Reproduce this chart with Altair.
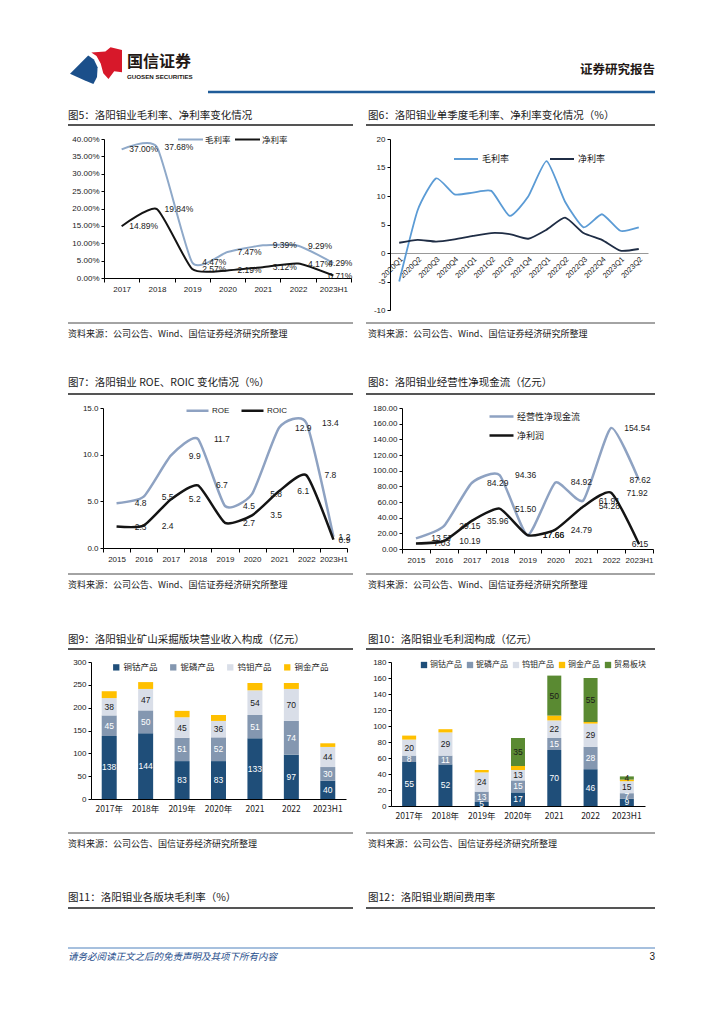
import altair as alt
import pandas as pd

FONT = "Noto Sans CJK SC"
NUM = "Liberation Sans"
INK = "#1a1a1a"

# ---------------- chart data ----------------
years5 = ["2017", "2018", "2019", "2020", "2021", "2022", "2023H1"]
gross5 = [37.00, 37.68, 4.47, 7.47, 9.39, 9.29, 4.29]
net5 = [14.89, 19.84, 2.57, 2.19, 3.12, 4.17, 0.71]
yticks5 = [0, 5, 10, 15, 20, 25, 30, 35, 40]

quarters6 = ["2020Q1", "2020Q2", "2020Q3", "2020Q4", "2021Q1", "2021Q2", "2021Q3",
             "2021Q4", "2022Q1", "2022Q2", "2022Q3", "2022Q4", "2023Q1", "2023Q2"]
gross6 = [-5.0, 7.5, 13.1, 10.3, 10.6, 10.9, 6.5, 9.9, 16.1, 9.0, 4.5, 6.8, 3.9, 4.5]
net6 = [1.8, 2.3, 2.0, 2.4, 3.0, 3.5, 3.3, 2.5, 4.1, 6.2, 3.5, 2.3, 0.4, 0.7]
yticks6 = [-10, -5, 0, 5, 10, 15, 20]

years7 = ["2015", "2016", "2017", "2018", "2019", "2020", "2021", "2022", "2023H1"]
roe7 = [4.8, 5.5, 9.9, 11.7, 4.5, 5.8, 12.9, 13.4, 1.2]
roic7 = [2.3, 2.4, 5.2, 6.7, 2.7, 3.5, 6.1, 7.8, 0.9]
yticks7 = [0, 5, 10, 15]

ocf8 = [13.57, 29.15, 84.29, 94.36, 17.66, 84.92, 61.91, 154.54, 87.62]
np8 = [7.03, 10.19, 35.96, 51.50, 17.66, 24.79, 54.28, 71.92, 6.15]
yticks8 = [0, 20, 40, 60, 80, 100, 120, 140, 160, 180]

cats9 = ["2017年", "2018年", "2019年", "2020年", "2021", "2022", "2023H1"]
names9 = ["铜钴产品", "铌磷产品", "钨钼产品", "铜金产品"]
cuco9 = [138, 144, 83, 83, 133, 97, 40]
nbp9 = [45, 50, 51, 52, 51, 74, 30]
wmo9 = [38, 47, 45, 36, 54, 70, 44]
cuau9 = [15, 15, 14, 13, 16, 13, 8]
yticks9 = [0, 50, 100, 150, 200, 250, 300]

names10 = ["铜钴产品", "铌磷产品", "钨钼产品", "铜金产品", "贸易板块"]
cuco10 = [55, 52, 5, 17, 70, 46, 9]
nbp10 = [8, 11, 13, 15, 15, 28, 7]
wmo10 = [20, 29, 24, 13, 22, 29, 15]
cuau10 = [5, 4, 3, 5, 6, 2, 2]
trade10 = [0, 0, 0, 35, 50, 55, 4]
yticks10 = [0, 20, 40, 60, 80, 100, 120, 140, 160, 180]

TITLE5 = "图5：洛阳钼业毛利率、净利率变化情况"
TITLE6 = "图6：洛阳钼业单季度毛利率、净利率变化情况（%）"
TITLE7 = "图7：洛阳钼业 ROE、ROIC 变化情况（%）"
TITLE8 = "图8：洛阳钼业经营性净现金流（亿元）"
TITLE9 = "图9：洛阳钼业矿山采掘版块营业收入构成（亿元）"
TITLE10 = "图10：洛阳钼业毛利润构成（亿元）"
TITLE11 = "图11：洛阳钼业各版块毛利率（%）"
TITLE12 = "图12：洛阳钼业期间费用率"
SRC_A = "资料来源：公司公告、Wind、国信证券经济研究所整理"
SRC_B = "资料来源：公司公告、国信证券经济研究所整理"
FOOT = "请务必阅读正文之后的免责声明及其项下所有内容"

# ---------------- page geometry ----------------
ROWS = {
    1: dict(top=100, bot=356, py=139, title=116, rule=125, sline=323, src=334),
    2: dict(top=356, bot=610, py=408, title=383, rule=394, sline=574, src=585),
    3: dict(top=610, bot=866, py=662, title=640, rule=649, sline=833, src=844),
}
COLS = {
    "L": dict(left=60, right=362, tx=68, r1=68, r2=353),
    "R": dict(left=362, right=716, tx=368, r1=366, r2=655),
}
TENSION = 0.45


def one():
    return pd.DataFrame({"d": [0]})


def txt(x, y, s, size=9, align="left", color=INK, font=FONT, weight="normal", style="normal"):
    return alt.Chart(one()).mark_text(
        align=align, baseline="middle", font=font, fontSize=size, color=color,
        fontWeight=weight, fontStyle=style
    ).encode(x=alt.value(x), y=alt.value(y), text=alt.value(s))


def hrule(x1, x2, y, color, w):
    return alt.Chart(one()).mark_rule(color=color, strokeWidth=w).encode(
        x=alt.value(x1), x2=alt.value(x2), y=alt.value(y))


def box(x1, x2, y1, y2):
    return alt.Chart(one()).mark_rect(opacity=0).encode(
        x=alt.value(x1), x2=alt.value(x2), y=alt.value(y1), y2=alt.value(y2))


def deco(row, col, px, title, source):
    R = ROWS[row]
    C = COLS[col]
    py = R["py"]
    return [
        box(C["left"] - px, C["right"] - px, R["top"] - py, R["bot"] - py),
        txt(C["tx"] - px, R["title"] - py, title, size=10.5),
        hrule(C["r1"] - px, C["r2"] - px, R["rule"] - py, "#555555", 1.8),
        hrule(C["r1"] - px, C["r2"] - px, R["sline"] - py, "#333333", 0.9),
        txt(C["tx"] - px, R["src"] - py, source, size=9),
    ]


def yaxis(yticks, expr):
    return alt.Axis(title=None, values=yticks, labelExpr=expr, grid=False, tickSize=3,
                    tickColor="#000", domainColor="#000", labelFont=NUM, labelFontSize=8,
                    labelColor=INK, labelPadding=2)


def line_panel(row, col, px, w, h, title, source, cats, names, series, colors, sw,
               ydom, yticks, yexpr, fmt, legend, dx=22, dx_last=8, xaxis=None):
    recs = []
    for n, vs in zip(names, series):
        for c, v in zip(cats, vs):
            recs.append({"cat": c, "series": n, "value": v,
                         "label": fmt.format(v) if fmt else ""})
    df = pd.DataFrame(recs)
    if xaxis is None:
        xaxis = alt.Axis(title=None, labelAngle=0, tickBand="extent", tickSize=4,
                         tickColor="#000", domainColor="#000", labelFont=NUM,
                         labelFontSize=8, labelColor=INK, labelPadding=3)
    x = alt.X("cat:N", sort=cats,
              scale=alt.Scale(type="band", paddingInner=0, paddingOuter=0), axis=xaxis)
    y = alt.Y("value:Q", scale=alt.Scale(domain=ydom, nice=False, zero=False),
              axis=yaxis(yticks, yexpr))
    color = alt.Color("series:N", sort=names,
                      scale=alt.Scale(domain=names, range=colors), legend=legend)
    layers = deco(row, col, px, title, source)
    layers.append(alt.Chart(df).mark_line(interpolate="cardinal", tension=TENSION,
                                          strokeWidth=sw)
                  .encode(x=x, y=y, color=color))
    if fmt:
        last = cats[-1]
        layers.append(alt.Chart(df).transform_filter(alt.datum.cat != last)
                      .mark_text(dx=dx, font=NUM, fontSize=8.5, color=INK)
                      .encode(x=x, y=y, text="label:N"))
        layers.append(alt.Chart(df).transform_filter(alt.datum.cat == last)
                      .mark_text(dx=dx_last, font=NUM, fontSize=8.5, color=INK)
                      .encode(x=x, y=y, text="label:N"))
    return alt.layer(*layers).properties(width=w, height=h)


def bar_panel(row, col, px, w, h, title, source, cats, names, series, colors,
              ydom, yticks, size, legend):
    recs = []
    for k, (n, vs) in enumerate(zip(names, series)):
        for c, v in zip(cats, vs):
            recs.append({"cat": c, "series": n, "value": v, "k": k})
    df = pd.DataFrame(recs)
    x = alt.X("cat:N", sort=cats,
              scale=alt.Scale(type="band", paddingInner=0, paddingOuter=0),
              axis=alt.Axis(title=None, labelAngle=0, ticks=False, domainColor="#000",
                            labelFont=FONT, labelFontSize=8.5, labelColor=INK,
                            labelPadding=5))
    yscale = alt.Scale(domain=ydom, nice=False, zero=True)
    ax = yaxis(yticks, "''+datum.value")
    y = alt.Y("value:Q", stack="zero", scale=yscale, axis=ax)
    color = alt.Color("series:N", sort=names,
                      scale=alt.Scale(domain=names, range=colors), legend=legend)
    layers = deco(row, col, px, title, source)
    layers.append(alt.Chart(df).mark_bar(size=size).encode(
        x=x, y=y, color=color, order=alt.Order("k:Q", sort="ascending")))
    layers.append(
        alt.Chart(df)
        .transform_stack(stack="value", groupby=["cat"], as_=["v0", "v1"],
                         sort=[alt.SortField("k", order="ascending")])
        .transform_calculate(mid="(datum.v0 + datum.v1) / 2")
        .transform_filter("datum.value > 0 && datum.k != 3")
        .mark_text(font=NUM, fontSize=8.5)
        .encode(x=x, y=alt.Y("mid:Q", scale=yscale, axis=ax), text="value:Q",
                color=alt.condition("datum.k < 2", alt.value("white"), alt.value(INK)))
    )
    return alt.layer(*layers).properties(width=w, height=h)


def spacer():
    return box(0, 52, 0, 1).properties(width=52, height=1)


# ---------------- header ----------------
BLUE_PATH = ("M-1,0.3 L-0.3,-0.4 L-0.08,-0.25 L0.06,0.05 L0.04,0.42 "
             "L-0.1,0.69 L-0.45,0.55 Z")
RED_PATH = ("M-0.18,-0.52 L0.36,-0.56 L0.56,-0.72 L1,-0.62 L1,0.24 L0.7,0.2 "
            "L0.48,0.5 L0.28,0.28 L0.18,-0.1 L0.02,-0.38 Z")


def logo(path, color):
    return alt.Chart(one()).mark_point(shape=path, filled=True, size=2704, color=color,
                                       opacity=1, strokeWidth=0).encode(
        x=alt.value(88), y=alt.value(58))


header = alt.layer(
    box(0, 708, 0, 92),
    logo(BLUE_PATH, "#1B4F8A"),
    logo(RED_PATH, "#D7182A"),
    txt(119, 54, "国信证券", size=16, weight="bold", color="#231815"),
    txt(119, 69, "GUOSEN SECURITIES", size=6.2, weight="bold", color="#231815", font=NUM),
    txt(647, 62, "证券研究报告", size=12.5, weight="bold", align="right", color="#231815"),
    hrule(200, 647, 84, "#1F5C99", 2.5),
).properties(width=708, height=92)

# ---------------- panels ----------------
p5 = line_panel(
    1, "L", 104, 247, 139, TITLE5, SRC_A, years5, ["毛利率", "净利率"], [gross5, net5],
    ["#8FA9C9", "#141414"], 2, [0, 40], yticks5, "format(datum.value, '.2f') + '%'",
    "{:.2f}%",
    alt.Legend(orient="none", legendX=73, legendY=-13, direction="horizontal", title=None,
               symbolType="stroke", symbolSize=625, symbolStrokeWidth=2, labelFont=FONT,
               labelFontSize=8.5, labelOffset=1, columnPadding=0, padding=0,
               labelColor=INK),
    dx=22, dx_last=7)

x6 = alt.Axis(title=None, labelAngle=-45, ticks=False, offset=-57, domainColor="#999999",
              labelFont=NUM, labelFontSize=7.5, labelColor=INK, labelPadding=2)
p6 = line_panel(
    1, "R", 390, 258, 171, TITLE6, SRC_A, quarters6, ["毛利率", "净利率"], [gross6, net6],
    ["#5B9BD5", "#1F2D45"], 1.8, [-10, 20], yticks6, "''+datum.value", None,
    alt.Legend(orient="none", legendX=63, legendY=7, direction="horizontal", title=None,
               symbolType="stroke", symbolSize=576, symbolStrokeWidth=2, labelFont=FONT,
               labelFontSize=9, labelOffset=3, columnPadding=36, padding=0,
               labelColor=INK),
    xaxis=x6)

p7 = line_panel(
    2, "L", 103, 244, 140, TITLE7, SRC_A, years7, ["ROE", "ROIC"], [roe7, roic7],
    ["#8EA2C2", "#141414"], 2.5, [0, 15], yticks7, "format(datum.value, '.1f')",
    "{:.1f}",
    alt.Legend(orient="none", legendX=82, legendY=-10, direction="horizontal", title=None,
               symbolType="stroke", symbolSize=484, symbolStrokeWidth=2.5, labelFont=NUM,
               labelFontSize=8, labelOffset=2, columnPadding=6, padding=0,
               labelColor=INK),
    dx=24, dx_last=11)

p8 = line_panel(
    2, "R", 402, 251, 141, TITLE8, SRC_A, years7, ["经营性净现金流", "净利润"], [ocf8, np8],
    ["#8EA2C2", "#141414"], 2.5, [0, 180], yticks8, "format(datum.value, '.2f')",
    "{:.2f}",
    alt.Legend(orient="none", legendX=86, legendY=-5, direction="vertical", title=None,
               symbolType="stroke", symbolSize=576, symbolStrokeWidth=2.5, labelFont=FONT,
               labelFontSize=9, labelOffset=2, rowPadding=-7, padding=0,
               labelColor=INK),
    dx=26, dx_last=1)

COL9 = ["#1F4E79", "#8497B0", "#D9DEE8", "#FFC000"]
p9 = bar_panel(
    3, "L", 91, 255, 137, TITLE9, SRC_B, cats9, names9, [cuco9, nbp9, wmo9, cuau9], COL9,
    [0, 300], yticks9, 15,
    alt.Legend(orient="none", legendX=21, legendY=1, direction="horizontal", title=None,
               symbolType="square", symbolSize=40, symbolStrokeWidth=0, labelFont=FONT,
               labelFontSize=8.5, labelOffset=3, columnPadding=11, padding=0,
               labelColor=INK))

COL10 = ["#1F4E79", "#8497B0", "#D9DEE8", "#FFC000", "#5A8A32"]
p10 = bar_panel(
    3, "R", 391, 254, 144, TITLE10, SRC_B, cats9, names10,
    [cuco10, nbp10, wmo10, cuau10, trade10], COL10, [0, 180], yticks10, 14,
    alt.Legend(orient="none", legendX=29, legendY=-1, direction="horizontal", title=None,
               symbolType="square", symbolSize=40, symbolStrokeWidth=0, labelFont=FONT,
               labelFontSize=8, labelOffset=2, columnPadding=4, padding=0,
               labelColor=INK))

# ---------------- footer ----------------
footer = alt.layer(
    box(0, 708, 0, 150),
    txt(60, 32, TITLE11, size=10.5),
    hrule(60, 345, 42, "#555555", 1.8),
    txt(360, 32, TITLE12, size=10.5),
    hrule(358, 647, 42, "#555555", 1.8),
    hrule(60, 647, 82, "#4F81BD", 1),
    txt(60, 91, FOOT, size=9.5, color="#1F4E8C", style="italic"),
    txt(647, 91, "3", size=10, align="right", font=NUM),
).properties(width=708, height=150)


def row(a, b):
    return (alt.hconcat(spacer(), a, b, spacing=0)
            .resolve_scale(color="independent")
            .resolve_legend(color="independent"))


row1 = row(p5, p6)
row2 = row(p7, p8)
row3 = row(p9, p10)

chart = (
    alt.vconcat(header, row1, row2, row3, footer, spacing=0)
    .resolve_scale(color="independent")
    .resolve_legend(color="independent")
    .properties(padding=0)
    .configure_view(strokeWidth=0)
)

chart.save("out.html", embed_options={"renderer": "svg", "actions": False})
